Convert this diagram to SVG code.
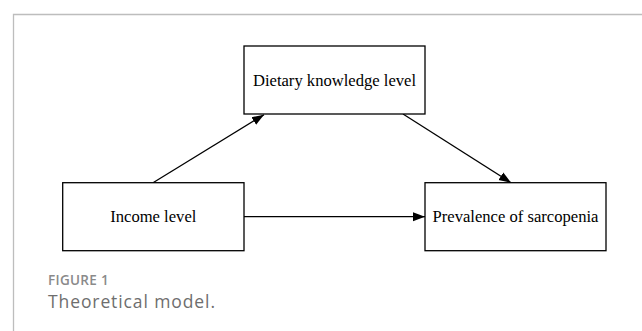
<svg xmlns="http://www.w3.org/2000/svg" width="642" height="331" viewBox="0 0 642 331">
<style>
.box{fill:#fff;stroke:#000;stroke-width:1.3}
.lbl{font-family:"Liberation Serif","Times New Roman",serif;font-size:16.6px;fill:#000;text-anchor:middle}
.conn{stroke:#000;stroke-width:1.3;fill:none;marker-end:url(#ah)}
.cap1{font-family:"Open Sans",Lato,sans-serif;font-size:13.5px;font-weight:600;fill:#8a8a8a;letter-spacing:0.3px}
.cap2{font-family:"Open Sans",Lato,sans-serif;font-size:17.5px;fill:#6e6e6e;letter-spacing:0.9px}
</style>
<defs>
<marker id="ah" viewBox="0 0 12 10" refX="12" refY="5" markerWidth="12" markerHeight="10" markerUnits="userSpaceOnUse" orient="auto">
<path d="M0,0.5 L12,5 L0,9.5 Z" fill="#000"/>
</marker>
</defs>
<rect width="642" height="331" fill="#fff"/>
<path d="M13.5,331 V14.5 H642" fill="none" stroke="#bdbdbd" stroke-width="1.3"/>
<g id="connectors">
<line class="conn" x1="153" y1="182.7" x2="264" y2="114.7"/>
<line class="conn" x1="403" y1="114" x2="511" y2="182.7"/>
<line class="conn" x1="244" y1="216.7" x2="425" y2="216.7"/>
</g>
<g id="dietary">
<rect class="box" x="244" y="46" width="181" height="68"/>
<text class="lbl" x="334.5" y="86">Dietary knowledge level</text>
</g>
<g id="income">
<rect class="box" x="62.7" y="182.7" width="181.3" height="68"/>
<text class="lbl" x="153.3" y="222">Income level</text>
</g>
<g id="prevalence">
<rect class="box" x="425" y="182.7" width="181" height="68"/>
<text class="lbl" x="515.5" y="222">Prevalence of sarcopenia</text>
</g>
<text class="cap1" x="48" y="284.5">FIGURE 1</text>
<text class="cap2" x="48" y="307.5">Theoretical model.</text>
</svg>
